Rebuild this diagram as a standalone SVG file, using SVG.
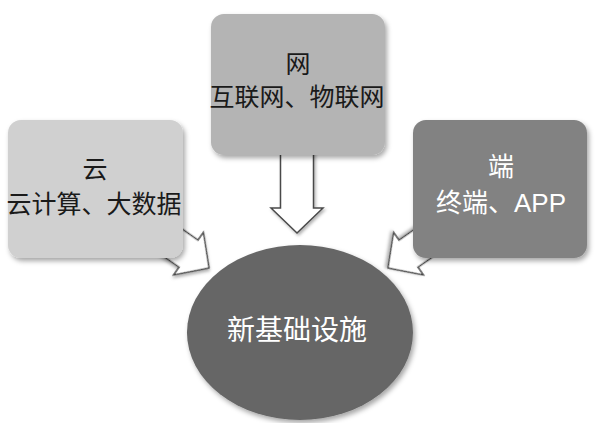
<svg xmlns="http://www.w3.org/2000/svg" width="598" height="423" viewBox="0 0 598 423">
  <defs>
    <filter id="shadow" x="-20%" y="-20%" width="140%" height="140%">
      <feDropShadow dx="2" dy="3" stdDeviation="2.5" flood-color="#000" flood-opacity="0.35"/>
    </filter>
    <filter id="ashadow" x="-20%" y="-20%" width="140%" height="140%">
      <feDropShadow dx="1.5" dy="2" stdDeviation="1.5" flood-color="#000" flood-opacity="0.3"/>
    </filter>
    <path id="arrowShape" d="M-90,-16.5 L-25,-16.5 L-25,-26 L0,0 L-25,26 L-25,16.5 L-90,16.5 Z"/>
  </defs>
  <style>
    .arrow { fill: #ffffff; stroke: #4a4a4a; stroke-width: 1.5; stroke-linejoin: miter; }
    .box { filter: url(#shadow); }
    .serif { font-family: "Liberation Serif", "Noto Sans CJK SC", serif; fill: #1a1a1a; text-anchor: middle; }
    .sans { font-family: "Liberation Sans", "Noto Sans CJK SC", sans-serif; fill: #ffffff; text-anchor: middle; }
  </style>
  <rect width="598" height="423" fill="#ffffff"/>

  <g id="connectors">
    <path class="arrow" filter="url(#ashadow)" d="M280.5,148 L313.5,148 L313.5,208 L323,208 L297,233 L271,208 L280.5,208 Z"/>
    <use href="#arrowShape" class="arrow" filter="url(#ashadow)" transform="translate(209,268) rotate(35)"/>
    <use href="#arrowShape" class="arrow" filter="url(#ashadow)" transform="translate(388,268) rotate(145)"/>
  </g>

  <g id="node-cloud">
    <rect class="box" x="8" y="120" width="175" height="138" rx="13" fill="#d0d0d0"/>
    <text class="serif" x="95" y="178" font-size="25">云</text>
    <text class="serif" x="94" y="213" font-size="25">云计算、大数据</text>
  </g>

  <g id="node-net">
    <rect class="box" x="211" y="14" width="174" height="141" rx="13" fill="#b4b4b4"/>
    <text class="serif" x="298" y="73" font-size="25">网</text>
    <text class="serif" x="297" y="106" font-size="25">互联网、物联网</text>
  </g>

  <g id="node-terminal">
    <rect class="box" x="413" y="120" width="174" height="138" rx="13" fill="#828282"/>
    <text class="sans" x="501" y="176" font-size="26">端</text>
    <text class="sans" x="501" y="212" font-size="26">终端、APP</text>
  </g>

  <g id="node-infra">
    <ellipse class="box" cx="300" cy="332.5" rx="113" ry="87.5" fill="#666666"/>
    <text class="sans" x="297" y="340" font-size="28">新基础设施</text>
  </g>
</svg>
